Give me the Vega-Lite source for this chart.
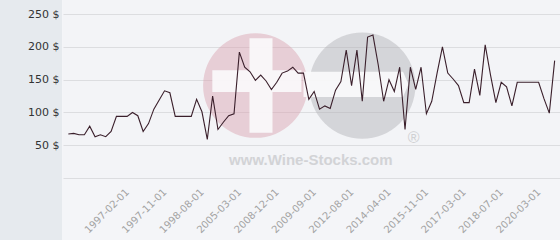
{
  "$schema": "https://vega.github.io/schema/vega-lite/v6.json",
  "padding": 0,
  "autosize": {"type": "pad"},
  "background": "#f4f5f8",
  "spacing": 1,
  "config": {"font": "DejaVu Sans", "concat": {"spacing": 1}},
  "datasets": {
    "prices": [
      {"date": "1996-03-01", "price": 67},
      {"date": "1996-04-01", "price": 68},
      {"date": "1996-05-01", "price": 66},
      {"date": "1996-06-01", "price": 66},
      {"date": "1996-07-01", "price": 79},
      {"date": "1996-08-01", "price": 63},
      {"date": "1996-09-01", "price": 66},
      {"date": "1996-10-01", "price": 63},
      {"date": "1996-11-01", "price": 71},
      {"date": "1996-12-01", "price": 94},
      {"date": "1997-01-01", "price": 94},
      {"date": "1997-02-01", "price": 94},
      {"date": "1997-03-01", "price": 100},
      {"date": "1997-04-01", "price": 95},
      {"date": "1997-05-01", "price": 71},
      {"date": "1997-06-01", "price": 83},
      {"date": "1997-08-01", "price": 105},
      {"date": "1997-09-01", "price": 119},
      {"date": "1997-11-01", "price": 133},
      {"date": "1997-12-01", "price": 130},
      {"date": "1998-01-01", "price": 94},
      {"date": "1998-02-01", "price": 94},
      {"date": "1998-03-01", "price": 94},
      {"date": "1998-05-01", "price": 94},
      {"date": "1998-06-01", "price": 120},
      {"date": "1998-08-01", "price": 101},
      {"date": "1998-10-01", "price": 59},
      {"date": "1999-06-01", "price": 125},
      {"date": "2000-09-01", "price": 74},
      {"date": "2001-11-01", "price": 85},
      {"date": "2003-02-01", "price": 95},
      {"date": "2004-05-01", "price": 98},
      {"date": "2005-03-01", "price": 192},
      {"date": "2005-09-01", "price": 169},
      {"date": "2006-03-01", "price": 162},
      {"date": "2006-10-01", "price": 149},
      {"date": "2007-05-01", "price": 157},
      {"date": "2007-11-01", "price": 148},
      {"date": "2008-06-01", "price": 135},
      {"date": "2008-12-01", "price": 146},
      {"date": "2009-01-01", "price": 160},
      {"date": "2009-02-01", "price": 163},
      {"date": "2009-03-01", "price": 169},
      {"date": "2009-05-01", "price": 160},
      {"date": "2009-06-01", "price": 160},
      {"date": "2009-07-01", "price": 120},
      {"date": "2009-09-01", "price": 132},
      {"date": "2010-02-01", "price": 105},
      {"date": "2010-08-01", "price": 110},
      {"date": "2011-01-01", "price": 106},
      {"date": "2011-06-01", "price": 134},
      {"date": "2011-11-01", "price": 147},
      {"date": "2012-03-01", "price": 195},
      {"date": "2012-08-01", "price": 141},
      {"date": "2012-11-01", "price": 195},
      {"date": "2013-02-01", "price": 117},
      {"date": "2013-05-01", "price": 215},
      {"date": "2013-08-01", "price": 218},
      {"date": "2013-11-01", "price": 172},
      {"date": "2014-01-01", "price": 117},
      {"date": "2014-04-01", "price": 150},
      {"date": "2014-07-01", "price": 132},
      {"date": "2014-10-01", "price": 169},
      {"date": "2015-01-01", "price": 74},
      {"date": "2015-04-01", "price": 169},
      {"date": "2015-06-01", "price": 135},
      {"date": "2015-09-01", "price": 169},
      {"date": "2015-11-01", "price": 98},
      {"date": "2016-01-01", "price": 117},
      {"date": "2016-03-01", "price": 160},
      {"date": "2016-06-01", "price": 200},
      {"date": "2016-08-01", "price": 160},
      {"date": "2016-10-01", "price": 151},
      {"date": "2016-12-01", "price": 141},
      {"date": "2017-03-01", "price": 115},
      {"date": "2017-05-01", "price": 115},
      {"date": "2017-08-01", "price": 166},
      {"date": "2017-10-01", "price": 126},
      {"date": "2017-12-01", "price": 203},
      {"date": "2018-02-01", "price": 157},
      {"date": "2018-04-01", "price": 115},
      {"date": "2018-07-01", "price": 146},
      {"date": "2018-09-01", "price": 139},
      {"date": "2018-12-01", "price": 110},
      {"date": "2019-03-01", "price": 146},
      {"date": "2019-06-01", "price": 146},
      {"date": "2019-09-01", "price": 146},
      {"date": "2019-12-01", "price": 146},
      {"date": "2020-03-01", "price": 146},
      {"date": "2020-06-01", "price": 121},
      {"date": "2020-09-01", "price": 99},
      {"date": "2020-12-01", "price": 179}
    ]
  },
  "hconcat": [
    {
      "width": 62,
      "height": 240,
      "view": {"fill": "#e6eaee", "stroke": null},
      "data": {"name": "prices"},
      "mark": {"type": "point", "opacity": 0},
      "encoding": {
        "y": {
          "field": "price",
          "type": "quantitative",
          "scale": {"domain": [-94.6, 271.5], "nice": false, "zero": false},
          "axis": {
            "orient": "left",
            "offset": -60,
            "values": [50, 100, 150, 200, 250],
            "labelExpr": "datum.value + ' $'",
            "labelFont": "DejaVu Sans",
            "labelFontSize": 11,
            "labelColor": "#333333",
            "labelPadding": 1,
            "ticks": false,
            "domain": false,
            "grid": false,
            "title": null
          }
        }
      }
    },
    {
      "width": 497,
      "height": 178,
      "view": {"fill": "#f3f4f7", "stroke": null},
      "data": {"name": "prices"},
      "encoding": {
        "x": {
          "field": "date",
          "type": "ordinal",
          "scale": {
            "type": "point",
            "padding": 1,
            "domain": ["1996-03-01", "1996-04-01", "1996-05-01", "1996-06-01", "1996-07-01", "1996-08-01", "1996-09-01", "1996-10-01", "1996-11-01", "1996-12-01", "1997-01-01", "1997-02-01", "1997-03-01", "1997-04-01", "1997-05-01", "1997-06-01", "1997-08-01", "1997-09-01", "1997-11-01", "1997-12-01", "1998-01-01", "1998-02-01", "1998-03-01", "1998-05-01", "1998-06-01", "1998-08-01", "1998-10-01", "1999-06-01", "2000-09-01", "2001-11-01", "2003-02-01", "2004-05-01", "2005-03-01", "2005-09-01", "2006-03-01", "2006-10-01", "2007-05-01", "2007-11-01", "2008-06-01", "2008-12-01", "2009-01-01", "2009-02-01", "2009-03-01", "2009-05-01", "2009-06-01", "2009-07-01", "2009-09-01", "2010-02-01", "2010-08-01", "2011-01-01", "2011-06-01", "2011-11-01", "2012-03-01", "2012-08-01", "2012-11-01", "2013-02-01", "2013-05-01", "2013-08-01", "2013-11-01", "2014-01-01", "2014-04-01", "2014-07-01", "2014-10-01", "2015-01-01", "2015-04-01", "2015-06-01", "2015-09-01", "2015-11-01", "2016-01-01", "2016-03-01", "2016-06-01", "2016-08-01", "2016-10-01", "2016-12-01", "2017-03-01", "2017-05-01", "2017-08-01", "2017-10-01", "2017-12-01", "2018-02-01", "2018-04-01", "2018-07-01", "2018-09-01", "2018-12-01", "2019-03-01", "2019-06-01", "2019-09-01", "2019-12-01", "2020-03-01", "2020-06-01", "2020-09-01", "2020-12-01"]
          },
          "axis": {
            "values": ["1997-02-01", "1997-11-01", "1998-08-01", "2005-03-01", "2008-12-01", "2009-09-01", "2012-08-01", "2014-04-01", "2015-11-01", "2017-03-01", "2018-07-01", "2020-03-01"],
            "labelAngle": -45,
            "labelAlign": "right",
            "labelBaseline": "middle",
            "labelFont": "DejaVu Sans",
            "labelFontSize": 10,
            "labelColor": "#a3a3a3",
            "labelPadding": 12,
            "labelOverlap": false,
            "ticks": false,
            "domain": false,
            "grid": false,
            "title": null
          }
        },
        "y": {
          "field": "price",
          "type": "quantitative",
          "scale": {"domain": [0, 271.5], "nice": false, "zero": false},
          "axis": {
            "values": [0, 50, 100, 150, 200, 250],
            "labels": false,
            "ticks": false,
            "domain": false,
            "grid": true,
            "gridColor": "#dcdde0",
            "gridWidth": 1,
            "title": null
          }
        }
      },
      "layer": [
        {
          "transform": [{"filter": {"field": "date", "equal": "1996-03-01"}}],
          "mark": {"type": "point", "shape": "circle", "filled": true, "color": "#d9a0ad", "opacity": 0.45, "size": 10936, "strokeWidth": 0},
          "encoding": {"x": {"datum": "2006-10-01"}, "y": {"datum": 141}}
        },
        {
          "transform": [{"filter": {"field": "date", "equal": "1996-03-01"}}],
          "mark": {"type": "point", "shape": "circle", "filled": true, "color": "#b0b0b4", "opacity": 0.45, "size": 11310, "strokeWidth": 0},
          "encoding": {"x": {"datum": "2013-02-01"}, "y": {"datum": 141}}
        },
        {
          "transform": [{"filter": {"field": "date", "equal": "1996-03-01"}}],
          "mark": {"type": "point", "shape": "M -0.1,-0.8 L 0.29,-0.8 L 0.29,-0.26 L 0.78,-0.26 L 0.78,0.11 L 0.29,0.11 L 0.29,0.8 L -0.1,0.8 L -0.1,0.11 L -0.73,0.11 L -0.73,-0.26 L -0.1,-0.26 Z", "filled": true, "color": "#fbfbfc", "opacity": 0.9, "size": 13924, "strokeWidth": 0},
          "encoding": {"x": {"datum": "2006-10-01"}, "y": {"datum": 141}}
        },
        {
          "transform": [{"filter": {"field": "date", "equal": "1996-03-01"}}],
          "mark": {"type": "point", "shape": "M -0.98,-0.23 L 0.68,-0.23 L 0.77,-0.02 L 0.68,0.19 L -0.98,0.19 Z", "filled": true, "color": "#fbfbfc", "opacity": 0.9, "size": 14400, "strokeWidth": 0},
          "encoding": {"x": {"datum": "2013-02-01"}, "y": {"datum": 141}}
        },
        {
          "transform": [{"filter": {"field": "date", "equal": "1996-03-01"}}],
          "mark": {"type": "text", "text": "www.Wine-Stocks.com", "font": "Liberation Sans", "fontWeight": "bold", "fontSize": 15, "color": "#d2d3d6", "align": "center", "baseline": "middle", "dx": 2},
          "encoding": {"x": {"datum": "2009-07-01"}, "y": {"datum": 28}}
        },
        {
          "transform": [{"filter": {"field": "date", "equal": "1996-03-01"}}],
          "mark": {"type": "text", "text": "®", "font": "Liberation Sans", "fontSize": 16, "color": "#cfd0d3", "align": "center", "baseline": "middle", "dx": -2},
          "encoding": {"x": {"datum": "2015-06-01"}, "y": {"datum": 61}}
        },
        {
          "mark": {"type": "line", "color": "#3a1f2b", "strokeWidth": 1.1},
          "encoding": {}
        }
      ]
    }
  ]
}
